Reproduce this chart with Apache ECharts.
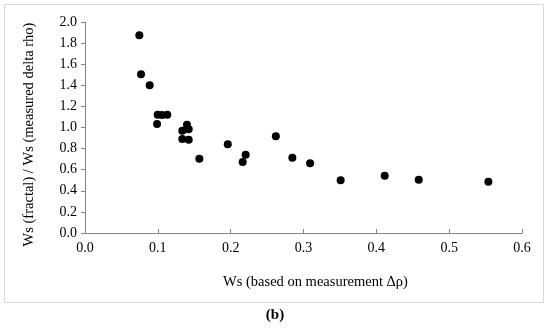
<!DOCTYPE html>
<html>
<head>
<meta charset="utf-8">
<script src="https://cdn.jsdelivr.net/npm/echarts@6/dist/echarts.min.js"></script>
<style>html,body{margin:0;padding:0;background:#fff}#c{width:550px;height:332px}</style>
</head>
<body>
<div id="c"></div>
<script>
const wsMeasured = [0.0746,0.0769,0.0888,0.0998,0.1057,0.113,0.0989,0.1336,0.140,0.1424,0.1336,0.1424,0.157,0.196,0.2165,0.2206,0.262,0.2847,0.309,0.351,0.4115,0.4582,0.5538];
const wsRatio   = [1.874,1.504,1.40,1.121,1.118,1.121,1.033,0.970,1.027,0.983,0.891,0.884,0.704,0.841,0.673,0.742,0.916,0.714,0.660,0.499,0.543,0.505,0.486];
const xTitle = 'Ws (based on measurement \u0394\u03c1)';
const yTitle = 'Ws (fractal) / Ws (measured delta rho)';
const caption = '(b)';

const points = wsMeasured.map((x, i) => [x, wsRatio[i]]);
const font = '"Liberation Serif", "Times New Roman", serif';
const chart = echarts.init(document.getElementById('c'), null, {renderer: 'canvas'});
chart.setOption({
  animation: false,
  backgroundColor: '#fff',
  grid: {left: 85, right: 28, top: 22, bottom: 99},
  graphic: [
    {type: 'rect', shape: {x: 4.5, y: 4.5, width: 539, height: 298}, style: {fill: 'none', stroke: '#d9d9d9', lineWidth: 1}, z: -1},
    {type: 'text', left: 'center', top: 308, style: {text: caption, font: 'bold 15px ' + font, fill: '#000'}}
  ],
  xAxis: {
    type: 'value', min: 0, max: 0.6, interval: 0.1,
    name: xTitle, nameLocation: 'middle', nameGap: 42,
    nameTextStyle: {fontFamily: font, fontSize: 14.5, color: '#000', padding: [0, 0, 0, 24]},
    axisLine: {show: true, lineStyle: {color: '#868686', width: 1}},
    axisTick: {show: true, inside: true, length: 4, lineStyle: {color: '#868686'}},
    axisLabel: {fontFamily: font, fontSize: 14, color: '#000', margin: 8, formatter: v => v.toFixed(1)},
    splitLine: {show: false}
  },
  yAxis: {
    type: 'value', min: 0, max: 2, interval: 0.2,
    name: yTitle, nameLocation: 'middle', nameGap: 48, nameRotate: 90,
    nameTextStyle: {fontFamily: font, fontSize: 14.5, color: '#000', padding: [0, 14, 0, 0]},
    axisLine: {show: true, lineStyle: {color: '#868686', width: 1}},
    axisTick: {show: true, inside: false, length: 4, lineStyle: {color: '#868686'}},
    axisLabel: {fontFamily: font, fontSize: 14, color: '#000', margin: 8, formatter: v => v.toFixed(1)},
    splitLine: {show: false}
  },
  series: [{
    type: 'scatter', data: points, symbol: 'circle', symbolSize: 8,
    itemStyle: {color: '#000', opacity: 1}
  }]
});
</script>
</body>
</html>
